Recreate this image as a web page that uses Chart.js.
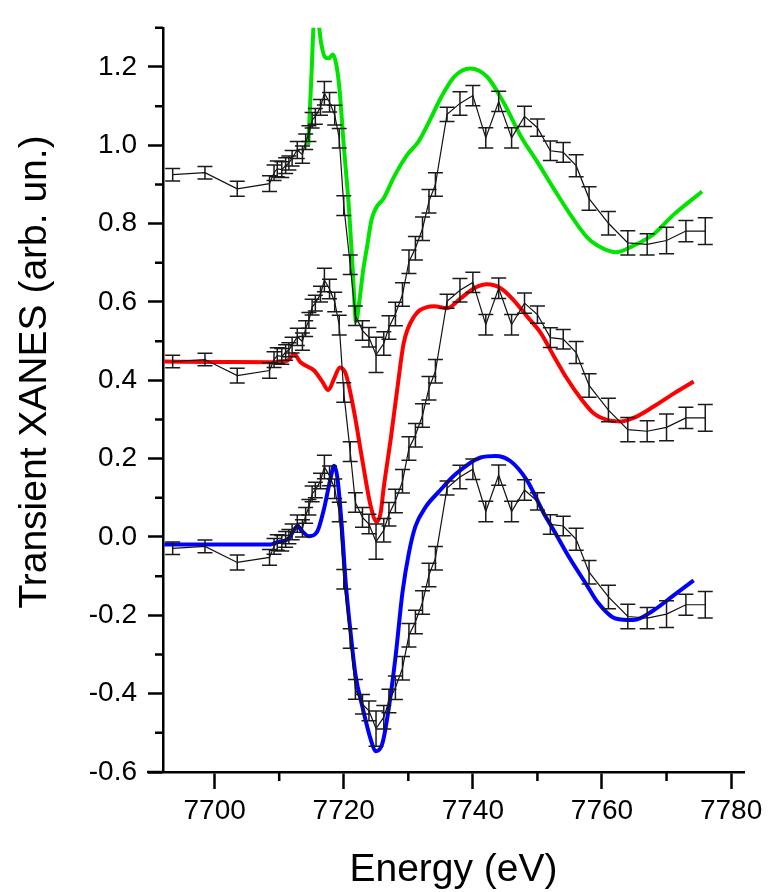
<!DOCTYPE html>
<html><head><meta charset="utf-8">
<script src="https://cdn.jsdelivr.net/npm/chart.js@4.4.1/dist/chart.umd.min.js"></script>
<style>html,body{margin:0;padding:0;background:#fff}canvas{display:block}</style>
</head><body>
<canvas id="c" width="769" height="892"></canvas>
<script>
// ---- measured data (black points with error bars) ----
const energies = [7693.5,7698.5,7703.5,7708.5,7709.2,7709.7,7710.4,7711.0,7711.5,7712.0,7712.8,7713.6,7714.1,7714.6,7715.1,7715.6,7716.4,7717.0,7717.8,7718.6,7719.3,7720.0,7721.0,7721.8,7722.9,7723.9,7725.0,7726.2,7727.0,7728.0,7729.1,7730.1,7731.1,7732.2,7733.2,7734.2,7736.0,7738.0,7740.0,7742.0,7744.0,7746.0,7748.0,7750.0,7752.0,7754.0,7756.0,7758.0,7761.0,7764.0,7767.0,7770.0,7773.0,7776.0];
const topValues = [0.925,0.930,0.889,0.902,0.930,0.940,0.938,0.948,0.955,0.967,0.988,0.976,1.009,1.030,1.064,1.074,1.097,1.133,1.110,1.077,1.018,0.846,0.695,0.565,0.527,0.510,0.465,0.494,0.535,0.569,0.619,0.703,0.737,0.787,0.857,0.900,1.079,1.107,1.127,1.019,1.112,1.019,1.074,1.045,0.986,0.982,0.948,0.864,0.801,0.751,0.747,0.757,0.781,0.781];
const midValues = [0.448,0.453,0.412,0.425,0.453,0.463,0.461,0.471,0.478,0.490,0.511,0.499,0.532,0.553,0.587,0.597,0.620,0.656,0.633,0.600,0.541,0.369,0.218,0.088,0.050,0.033,-0.012,0.017,0.058,0.092,0.142,0.226,0.260,0.310,0.380,0.423,0.602,0.630,0.650,0.542,0.635,0.542,0.597,0.568,0.509,0.505,0.471,0.387,0.324,0.274,0.270,0.280,0.304,0.304];
const botValues = [-0.029,-0.024,-0.065,-0.052,-0.024,-0.014,-0.016,-0.006,0.001,0.013,0.034,0.022,0.055,0.076,0.110,0.120,0.143,0.179,0.156,0.123,0.064,-0.108,-0.259,-0.389,-0.427,-0.444,-0.489,-0.460,-0.419,-0.385,-0.335,-0.251,-0.217,-0.167,-0.097,-0.054,0.125,0.153,0.173,0.065,0.158,0.065,0.120,0.091,0.032,0.028,-0.006,-0.090,-0.153,-0.203,-0.207,-0.197,-0.173,-0.173];
const errors = [0.016,0.016,0.019,0.020,0.020,0.020,0.020,0.020,0.018,0.020,0.022,0.022,0.020,0.020,0.020,0.020,0.020,0.030,0.025,0.025,0.025,0.025,0.025,0.025,0.025,0.025,0.045,0.030,0.030,0.030,0.030,0.030,0.030,0.030,0.030,0.030,0.018,0.030,0.026,0.026,0.026,0.026,0.026,0.022,0.025,0.025,0.028,0.030,0.030,0.031,0.027,0.034,0.027,0.034];

// ---- simulated curves ----
const greenE = [7714.5,7715.0,7715.4,7715.9,7716.5,7717.1,7717.7,7718.3,7718.8,7719.3,7720.0,7720.8,7721.4,7721.9,7722.4,7723.0,7723.6,7724.3,7725.0,7726.2,7727.8,7729.8,7731.6,7733.4,7735.0,7737.1,7739.6,7742.2,7744.8,7747.4,7750.0,7752.5,7755.1,7757.7,7759.3,7762.1,7764.9,7768.0,7771.1,7775.5];
const greenV = [1.00,1.18,1.32,1.33,1.26,1.225,1.222,1.232,1.21,1.15,1.00,0.84,0.68,0.55,0.60,0.68,0.74,0.81,0.84,0.865,0.92,0.975,1.01,1.066,1.12,1.175,1.196,1.175,1.108,1.024,0.957,0.890,0.823,0.765,0.744,0.727,0.744,0.773,0.823,0.882];
const redE = [7692.2,7700.0,7709.2,7711.3,7712.3,7713.3,7715.4,7716.7,7717.6,7718.5,7719.4,7720.3,7721.6,7722.9,7724.2,7725.1,7725.7,7726.2,7727.3,7728.3,7729.3,7730.9,7732.9,7734.0,7736.0,7738.1,7740.2,7742.2,7744.3,7746.3,7748.4,7750.5,7752.5,7754.6,7756.7,7758.7,7760.8,7762.9,7764.9,7768.0,7771.1,7774.2];
const redV = [0.448,0.447,0.446,0.450,0.467,0.446,0.425,0.396,0.375,0.404,0.433,0.417,0.320,0.194,0.077,0.039,0.060,0.127,0.253,0.379,0.496,0.563,0.587,0.589,0.584,0.609,0.635,0.645,0.635,0.605,0.563,0.521,0.463,0.404,0.354,0.316,0.299,0.295,0.304,0.333,0.366,0.397];
const blueE = [7692.2,7700.0,7708.7,7709.4,7711.5,7712.8,7713.6,7714.6,7715.9,7716.9,7718.0,7718.5,7719.0,7719.7,7720.3,7721.1,7721.8,7722.9,7724.2,7725.0,7726.0,7727.0,7728.0,7729.1,7730.1,7731.1,7732.7,7734.7,7737.3,7741.2,7743.5,7745.8,7748.4,7751.0,7752.5,7755.1,7757.7,7759.3,7762.1,7764.9,7768.0,7771.1,7774.2];
const blueV = [-0.019,-0.019,-0.019,-0.015,-0.003,0.027,0.014,0.002,0.014,0.069,0.153,0.182,0.153,0.027,-0.116,-0.250,-0.350,-0.434,-0.518,-0.547,-0.526,-0.434,-0.309,-0.141,-0.040,0.027,0.077,0.115,0.160,0.203,0.207,0.194,0.144,0.060,0.018,-0.057,-0.124,-0.166,-0.208,-0.212,-0.187,-0.149,-0.111];

// ---- axes ----
const xTicks = [7700,7720,7740,7760,7780];
const xMinor = [7710,7730,7750,7770];
const yTicks = [-0.6,-0.4,-0.2,0.0,0.2,0.4,0.6,0.8,1.0,1.2];
const yMinor = [-0.5,-0.3,-0.1,0.1,0.3,0.5,0.7,0.9,1.1,1.3];
const xTitle = 'Energy (eV)';
const yTitle = 'Transient XANES (arb. un.)';

const FONT = '"Liberation Sans", Arial, Helvetica, sans-serif';
const pts = (xs, ys) => xs.map((x, i) => ({x, y: ys[i]}));

const decor = {
  id: 'decor',
  afterDatasetsDraw(chart) {
    const ctx = chart.ctx, xs = chart.scales.x, ys = chart.scales.y;
    ctx.save();
    ctx.strokeStyle = '#1a1a1a';
    ctx.lineWidth = 1.5;
    [topValues, midValues, botValues].forEach(vals => {
      vals.forEach((v, i) => {
        const px = xs.getPixelForValue(energies[i]);
        const y1 = ys.getPixelForValue(v + errors[i]);
        const y2 = ys.getPixelForValue(v - errors[i]);
        ctx.beginPath();
        ctx.moveTo(px, y1); ctx.lineTo(px, y2);
        ctx.moveTo(px - 7.5, y1); ctx.lineTo(px + 7.5, y1);
        ctx.moveTo(px - 7.5, y2); ctx.lineTo(px + 7.5, y2);
        ctx.stroke();
      });
    });
    ctx.restore();
  },
  afterDraw(chart) {
    const ctx = chart.ctx, xs = chart.scales.x, ys = chart.scales.y, a = chart.chartArea;
    ctx.save();
    ctx.strokeStyle = '#000';
    ctx.lineWidth = 2.5;
    ctx.beginPath();
    yMinor.forEach(v => { const p = ys.getPixelForValue(v); ctx.moveTo(a.left - 8, p); ctx.lineTo(a.left, p); });
    xMinor.forEach(v => { const p = xs.getPixelForValue(v); ctx.moveTo(p, a.bottom); ctx.lineTo(p, a.bottom + 9); });
    ctx.moveTo(a.left - 16, a.bottom); ctx.lineTo(a.left, a.bottom);
    ctx.stroke();
    ctx.fillStyle = '#000';
    ctx.font = '39px ' + FONT;
    ctx.textAlign = 'center';
    ctx.textBaseline = 'alphabetic';
    ctx.fillText(xTitle, (a.left + a.right) / 2, 881);
    ctx.translate(46, 372);
    ctx.rotate(-Math.PI / 2);
    ctx.fillText(yTitle, 0, 0);
    ctx.restore();
  }
};

const blackDs = (vals) => ({
  data: pts(energies, vals), borderColor: '#111', borderWidth: 1.2,
  pointRadius: 0, tension: 0, fill: false, order: 0
});
const curveDs = (xs, ys, col) => ({
  data: pts(xs, ys), borderColor: col, borderWidth: 4,
  pointRadius: 0, cubicInterpolationMode: 'monotone', fill: false, order: 1, clip: 0
});

new Chart(document.getElementById('c'), {
  type: 'line',
  data: {
    datasets: [
      blackDs(topValues), blackDs(midValues), blackDs(botValues),
      curveDs(greenE, greenV, '#00e400'),
      curveDs(redE, redV, '#ff0000'),
      curveDs(blueE, blueV, '#0000ff')
    ]
  },
  options: {
    responsive: false, animation: false, devicePixelRatio: 1,
    layout: { padding: { left: 0, top: 16, right: 25, bottom: 0 } },
    plugins: { legend: { display: false }, tooltip: { enabled: false } },
    scales: {
      x: {
        type: 'linear', position: 'bottom', min: 7692, max: 7782,
        afterBuildTicks: s => { s.ticks = xTicks.map(v => ({ value: v })); },
        afterFit: s => { s.height = 120; },
        grid: { display: true, drawOnChartArea: false, drawTicks: true, tickLength: 17, tickWidth: 2.5, tickColor: '#000' },
        border: { display: true, color: '#000', width: 2.5 },
        ticks: { color: '#000', padding: 5, maxRotation: 0, font: { family: FONT, size: 28 }, callback: v => String(v) }
      },
      y: {
        type: 'linear', position: 'left', min: -0.6, max: 1.3,
        afterBuildTicks: s => { s.ticks = yTicks.map(v => ({ value: v })); },
        afterFit: s => { s.width = 163; },
        grid: { display: true, drawOnChartArea: false, drawTicks: true, tickLength: 15, tickWidth: 2.5, tickColor: '#000' },
        border: { display: true, color: '#000', width: 2.5 },
        ticks: { color: '#000', padding: 11, font: { family: FONT, size: 28 }, callback: v => Number(v).toFixed(1) }
      }
    }
  },
  plugins: [decor]
});
</script>
</body></html>
